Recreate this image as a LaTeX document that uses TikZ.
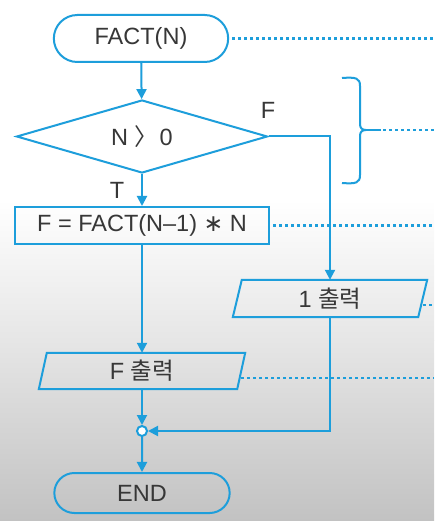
\documentclass[tikz,border=0pt]{standalone}
\usepackage{fontspec}
\setmainfont{Liberation Sans}
\newfontfamily\cjk{Noto Sans CJK KR}
\newfontfamily\djv{DejaVu Sans}
\usetikzlibrary{arrows.meta,shapes.misc,shapes.geometric}
\definecolor{fcblue}{RGB}{29,158,219}
\definecolor{txt}{RGB}{55,55,55}
\definecolor{bgmid}{RGB}{230,230,230}
\definecolor{bgbot}{RGB}{194,194,194}
\begin{document}
\begin{tikzpicture}[x=1pt,y=-1pt,
  every node/.style={text=txt,font=\fontsize{23.5}{27}\selectfont},
  line/.style={draw=fcblue,line width=2pt},
  flow/.style={draw=fcblue,line width=2pt,-{Triangle[length=10pt,width=10pt]}},
  dots/.style={draw=fcblue,line width=2.8pt,dash pattern=on 3pt off 3pt},
  term/.style={line,rounded rectangle},
  ]
\useasboundingbox (0,0) rectangle (434,521);
\fill[white] (0,0) rectangle (434,200);
\shade[top color=white,bottom color=bgmid] (0,200) rectangle (434,340);
\shade[top color=bgmid,bottom color=bgbot] (0,340) rectangle (434,521);

\node[term,minimum width=181pt,minimum height=47pt] (start) at (141,38.5) {FACT(N)};
\node[line,diamond,aspect=3.4,inner sep=0pt,minimum width=251pt,minimum height=73pt] (dec) at (142,136.5) {N {\cjk 〉}\hspace{-5pt} 0};
\node[line,rectangle,minimum width=254pt,minimum height=37pt] (proc) at (142,225.5) {F = FACT(N–1) {\djv ∗} N};
\node[minimum width=185pt,minimum height=37pt] (out1) at (330,298.5) {1 {\cjk 출력}};
\node[minimum width=198pt,minimum height=36pt] (outf) at (142,371) {F {\cjk 출력}};
\node[circle,line,fill=white,minimum size=10pt,inner sep=0pt] (join) at (142,431) {};
\node[term,minimum width=182pt,minimum height=40pt] (end) at (142,493) {END};

\draw[line] ([xshift=4.5pt]out1.north west) -- ([xshift=4.5pt]out1.north east) -- ([xshift=-4.5pt]out1.south east) -- ([xshift=-4.5pt]out1.south west) -- cycle;
\draw[line] ([xshift=4pt]outf.north west) -- ([xshift=4pt]outf.north east) -- ([xshift=-4pt]outf.south east) -- ([xshift=-4pt]outf.south west) -- cycle;

\node (lF) at (268,110) {F};
\node (lT) at (117,190) {T};

\draw[flow] (start) -- (dec);
\draw[flow] (dec) -- (proc);
\draw[flow] (proc) -- (outf);
\draw[flow] (outf) -- (join);
\draw[flow] (join) -- (end);
\draw[flow] (dec.east) -| (out1.north);
\draw[flow] (out1.south) |- (join);

% brace
\coordinate (bt) at (342,78);
\coordinate (bb) at (342,183);
\coordinate (bn) at (366,130);
\draw[line] (bt) .. controls (356,77) and (360,78) .. (360,86) -- (360,124) .. controls (360,128) and (362,130) .. (bn);
\draw[line] (bb) .. controls (356,184) and (360,183) .. (360,175) -- (360,136) .. controls (360,132) and (362,130) .. (bn);
\coordinate (bs) at (381,130);
\draw[line] (bn) -- (bs);

% dotted leaders
\coordinate (e1) at (434,38.5);
\coordinate (e2) at (434,130);
\coordinate (e3) at (434,225.5);
\coordinate (s4) at (423,305);
\coordinate (e4) at (434,305);
\coordinate (s5) at (241,378);
\coordinate (e5) at (434,378);
\draw[dots] ([xshift=3pt]start.east) -- (e1);
\draw[dots] ([xshift=2pt]bs) -- (e2);
\draw[dots] ([xshift=3pt]proc.east) -- (e3);
\draw[dots] (s4) -- (e4);
\draw[dots] (s5) -- (e5);
\end{tikzpicture}
\end{document}
